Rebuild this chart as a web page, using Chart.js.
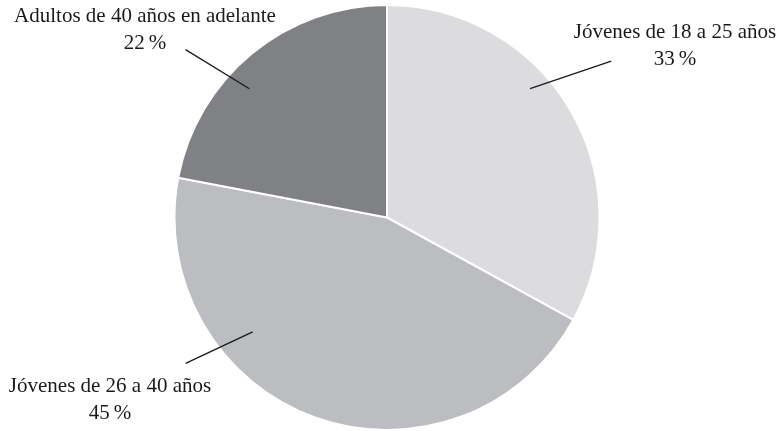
<!DOCTYPE html>
<html lang="es">
<head>
  <meta charset="UTF-8">
  <title>Distribución por edades</title>
  <script src="https://cdn.jsdelivr.net/npm/chart.js"></script>
  <style>
    html, body {
      margin: 0;
      padding: 0;
      background: #fff;
    }
    #wrap {
      width: 779px;
      height: 431px;
    }
  </style>
</head>
<body>
  <div id="wrap">
    <canvas id="pie" width="779" height="431"></canvas>
  </div>

  <script>
    const categories = ['Jóvenes de 18 a 25 años', 'Jóvenes de 26 a 40 años', 'Adultos de 40 años en adelante'];
    const shares = [33, 45, 22];
    const sliceColors = ['#dcdcdf', '#bcbdc1', '#808185'];

    // leader line + label placement, relative to pie centre
    // inner/outer: [angle in degrees, fraction of radius]; text: [dx, dy] of first baseline
    const labelLayout = [
      { inner: [-42, 0.906], outer: [-34.9, 1.287], text: [288, -180] },
      { inner: [139.6, 0.83], outer: [144.1, 1.17], text: [-277, 174] },
      { inner: [-136.9, 0.887], outer: [-140.2, 1.234], text: [-242, -196] }
    ];

    const leaderLabels = {
      id: 'leaderLabels',
      afterDatasetsDraw(chart) {
        const ctx = chart.ctx;
        const meta = chart.getDatasetMeta(0);
        ctx.save();
        ctx.strokeStyle = '#1a1a1a';
        ctx.lineWidth = 1.3;
        ctx.fillStyle = '#1a1a1a';
        ctx.font = '21px "Liberation Serif", "Times New Roman", serif';
        ctx.textAlign = 'center';
        ctx.textBaseline = 'alphabetic';
        meta.data.forEach((arc, i) => {
          const cx = arc.x, cy = arc.y, r = arc.outerRadius;
          const lay = labelLayout[i];
          const pt = ([deg, f]) => {
            const a = deg * Math.PI / 180;
            return [cx + Math.cos(a) * r * f, cy + Math.sin(a) * r * f];
          };
          const p1 = pt(lay.inner);
          const p2 = pt(lay.outer);
          ctx.beginPath();
          ctx.moveTo(p1[0], p1[1]);
          ctx.lineTo(p2[0], p2[1]);
          ctx.stroke();
          const tx = cx + lay.text[0];
          const ty = cy + lay.text[1];
          ctx.fillText(categories[i], tx, ty);
          ctx.fillText(shares[i] + '\u2009%', tx, ty + 27);
        });
        ctx.restore();
      }
    };

    new Chart(document.getElementById('pie').getContext('2d'), {
      type: 'pie',
      data: {
        labels: categories,
        datasets: [{
          data: shares,
          backgroundColor: sliceColors,
          borderColor: '#ffffff',
          borderWidth: 2
        }]
      },
      options: {
        responsive: false,
        animation: false,
        layout: { padding: { top: 4, bottom: -1, left: 0, right: 5 } },
        plugins: {
          legend: { display: false },
          tooltip: { enabled: false }
        }
      },
      plugins: [leaderLabels]
    });
  </script>
</body>
</html>
